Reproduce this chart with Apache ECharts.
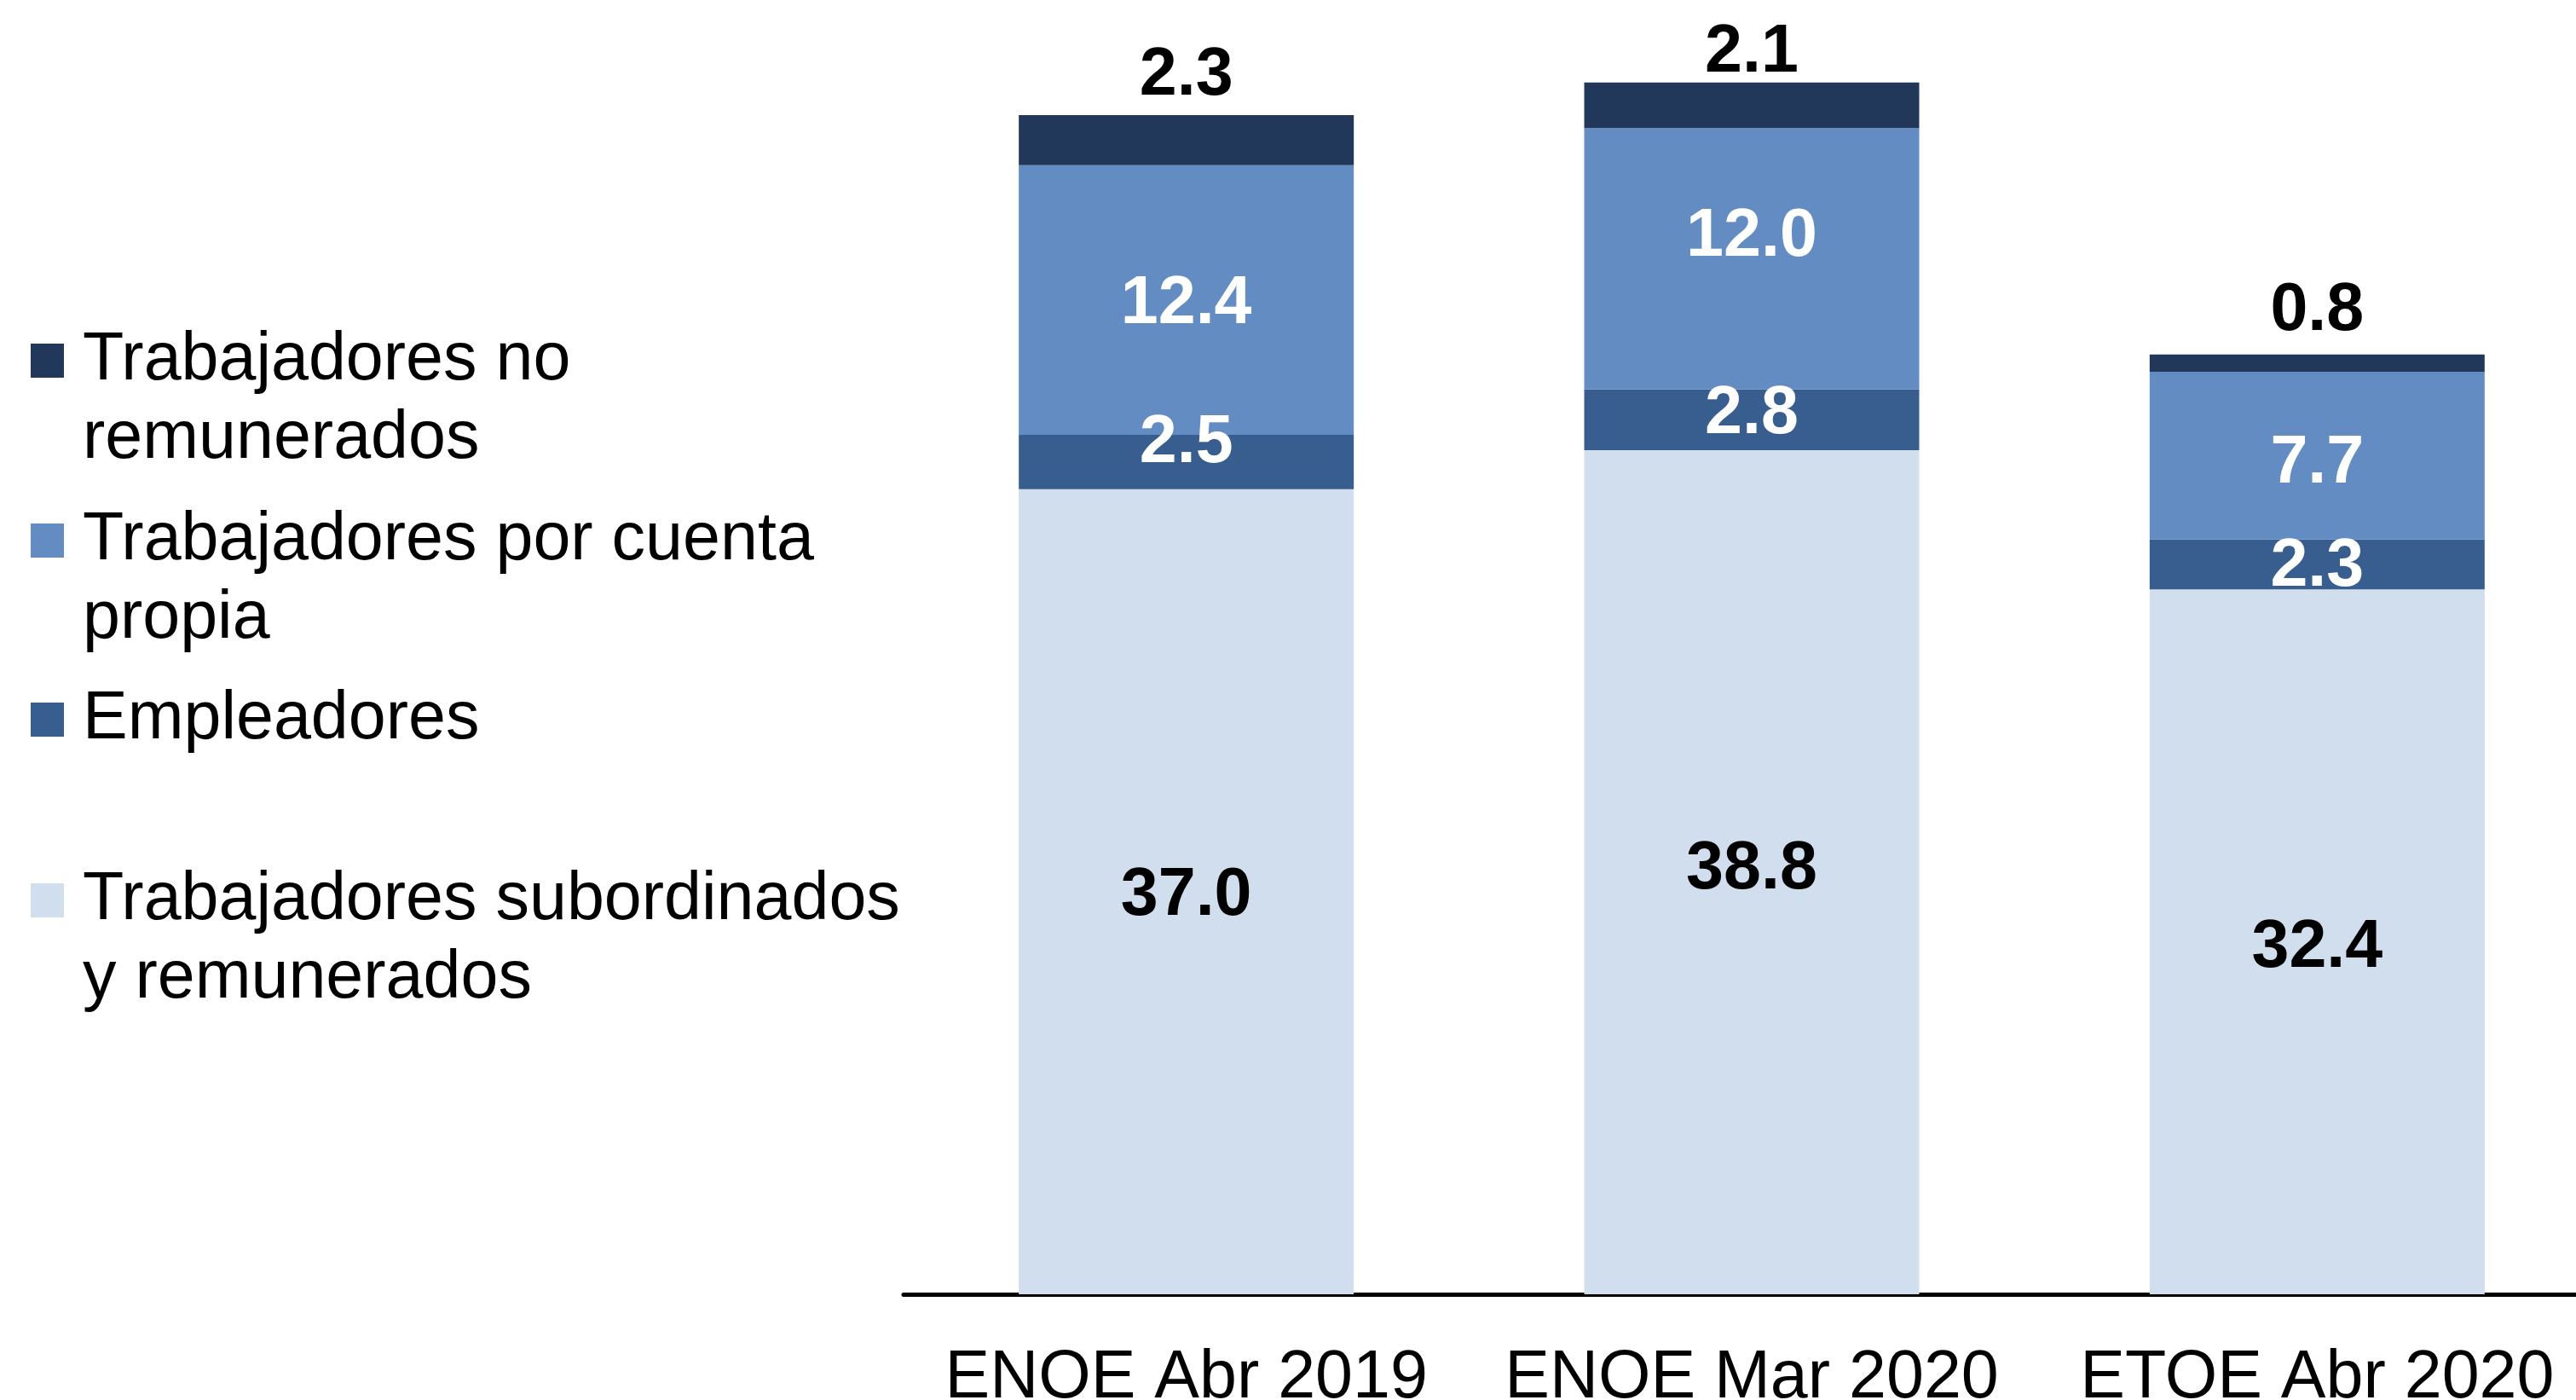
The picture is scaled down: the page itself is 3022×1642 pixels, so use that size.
<!DOCTYPE html>
<html>
<head>
<meta charset="utf-8">
<script src="https://cdn.jsdelivr.net/npm/echarts@6/dist/echarts.min.js"></script>
<style>
    html, body { margin: 0; padding: 0; background: #fff; }
    #chart { width: 3022px; height: 1642px; }
</style>
</head>
<body>
<div id="chart"></div>
<script>
const categories = ['ENOE Abr 2019', 'ENOE Mar 2020', 'ETOE Abr 2020'];

const subordinados = [37.0, 38.8, 32.4];
const empleadores = [2.5, 2.8, 2.3];
const cuentaPropia = [12.4, 12.0, 7.7];
const noRemunerados = [2.3, 2.1, 0.8];

const legendNames = [
    'Trabajadores no remunerados',
    'Trabajadores por cuenta propia',
    'Empleadores',
    'Trabajadores subordinados y remunerados',
];
// how the legend text wraps in the original
const legendText = {
    'Trabajadores no remunerados': 'Trabajadores no\nremunerados',
    'Trabajadores por cuenta propia': 'Trabajadores por cuenta\npropia',
    'Empleadores': 'Empleadores',
    'Trabajadores subordinados y remunerados': 'Trabajadores subordinados\ny remunerados',
};

const COLORS = {
    noRem: '#22385a',
    cuenta: '#628cc2',
    emp: '#375e8f',
    sub: '#d1deee',
};
const FONT = "'Liberation Sans', Arial, sans-serif";
const FS = 79;
const LH = 92;

// label nudges (px) so the numbers sit where the original puts them
const subShift = [5, -3, 8];
const empShift = [-22, -6, 3];
const cuentaShift = [5, -25, 10];
const topShift = [2, 13, -3];

const chart = echarts.init(document.getElementById('chart'));

const fmt = p => p.value.toFixed(1);

function labelStyle(color, position) {
    return {
        show: true, position, formatter: fmt,
        color, fontFamily: FONT, fontSize: FS, fontWeight: 'bold', lineHeight: FS,
    };
}

function withShift(values, shifts) {
    return values.map((v, i) => ({ value: v, label: { offset: [0, shifts[i]] } }));
}

const series = [
    {
        name: legendNames[3], type: 'bar', stack: 'total', barWidth: 393,
        data: withShift(subordinados, subShift),
        itemStyle: { color: COLORS.sub },
        label: labelStyle('#000', 'inside'),
    },
    {
        name: legendNames[2], type: 'bar', stack: 'total', barWidth: 393,
        data: withShift(empleadores, empShift),
        itemStyle: { color: COLORS.emp },
        label: labelStyle('#fff', 'inside'),
    },
    {
        name: legendNames[1], type: 'bar', stack: 'total', barWidth: 393,
        data: withShift(cuentaPropia, cuentaShift),
        itemStyle: { color: COLORS.cuenta },
        label: labelStyle('#fff', 'inside'),
    },
    {
        name: legendNames[0], type: 'bar', stack: 'total', barWidth: 393,
        data: withShift(noRemunerados, topShift),
        itemStyle: { color: COLORS.noRem },
        label: Object.assign(labelStyle('#000', 'top'), { distance: 8 }),
    },
];

// one legend per entry so each can sit where the original puts it.
// two-line entries use a taller icon box whose square sits at the top,
// so the swatch lines up with the first text line
const TWO_LINE_H = 40 + LH;
const TOP_SQUARE = `path://M0,0H39V40H0Z M0,${TWO_LINE_H}H39`;
const legendTops = [377, 588, 798, 1010];
const legend = legendNames.map((name, i) => {
    const twoLines = legendText[name].includes('\n');
    return {
        data: [name],
        left: 36, top: legendTops[i],
        orient: 'vertical', padding: 0,
        itemWidth: 39, itemHeight: twoLines ? TWO_LINE_H : 40,
        icon: twoLines ? TOP_SQUARE : 'rect',
        selectedMode: false,
        formatter: n => legendText[n],
        textStyle: {
            fontFamily: FONT, fontSize: FS, lineHeight: LH, color: '#000',
            padding: [0, 0, 0, 17],
        },
    };
});

chart.setOption({
    backgroundColor: '#fff',
    animation: false,
    textStyle: { fontFamily: FONT },
    // axis runs off the right edge in the original, so let the grid do that too
    grid: { left: 1060, right: -28, top: 38, bottom: 124, outerBoundsMode: 'none', containLabel: false },
    legend,
    xAxis: {
        type: 'category', data: categories,
        axisLine: { lineStyle: { color: '#000', width: 5 } },
        axisTick: { show: false },
        axisLabel: { interval: 0, color: '#000', fontFamily: FONT, fontSize: FS, lineHeight: FS, margin: 60 },
    },
    yAxis: { type: 'value', min: 0, max: 58, show: false, splitLine: { show: false } },
    series,
});
</script>
</body>
</html>
